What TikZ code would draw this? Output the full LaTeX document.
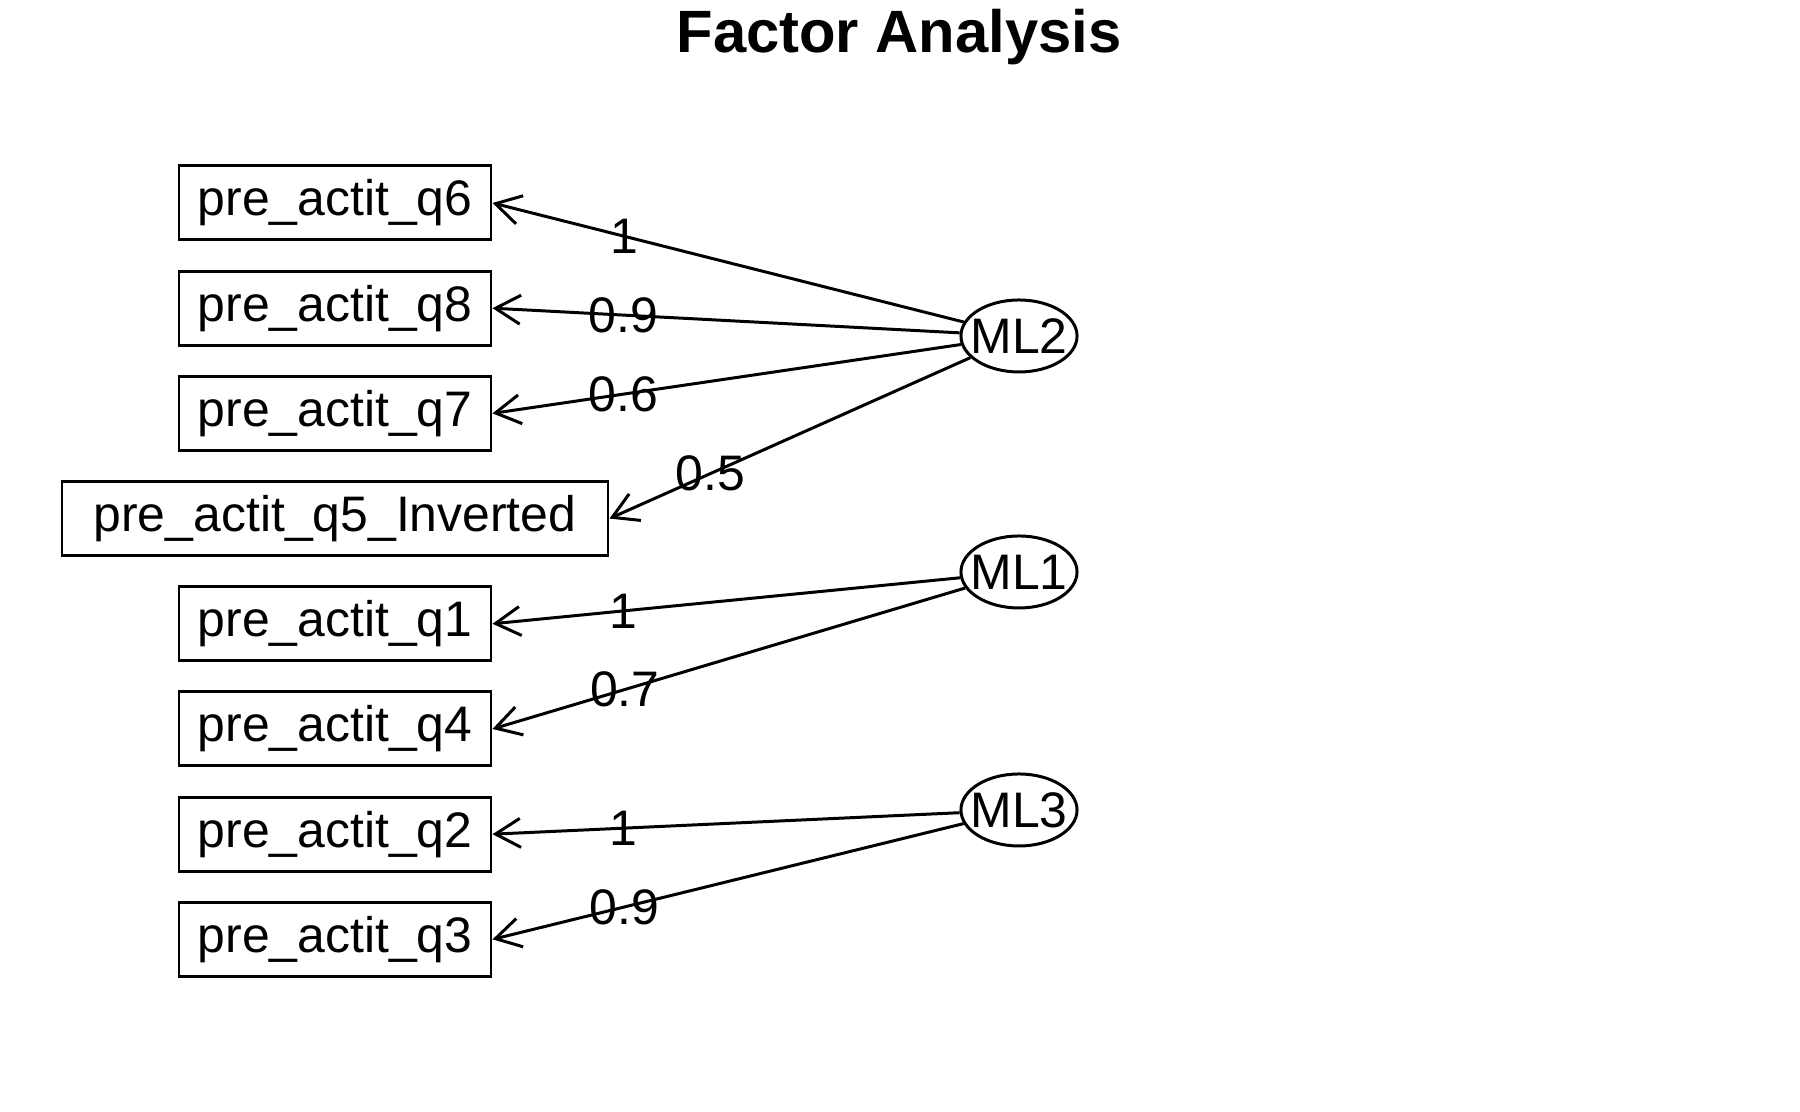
\documentclass[tikz,border=0pt]{standalone}
\usepackage{fontspec}
\setmainfont{Liberation Sans}
\usetikzlibrary{positioning, arrows.meta, shapes.geometric}
\tikzstyle{item}=[draw, minimum width=3.12cm, minimum height=0.74cm, inner sep=0pt, font=\fontsize{14.2}{17}\selectfont]
\tikzstyle{factor}=[draw, ellipse, minimum width=1.16cm, minimum height=0.72cm, inner xsep=-0.075cm, inner ysep=0pt, font=\fontsize{14.2}{17}\selectfont]
\tikzstyle{load}=[inner sep=0pt, font=\fontsize{14.2}{17}\selectfont]

\begin{document}
\begin{tikzpicture}[node distance=1.052cm, line width=0.85pt, >={Straight Barb[length=0.25cm,width=0.29cm]}]
                    \useasboundingbox (0,0) rectangle (18,11.12);
                    \node [anchor=base, font=\fontsize{17}{20}\selectfont\bfseries] (title) at (8.99,10.59) {Factor Analysis};
                    \node [item] (q6) at (3.35,9.09) {pre\_actit\_q6};
                    \node [item] (q8) [below of=q6] {pre\_actit\_q8};
                    \node [item] (q7) [below of=q8] {pre\_actit\_q7};
                    \node [item, minimum width=5.46cm] (q5) [below of=q7] {pre\_actit\_q5\_Inverted};
                    \node [item] (q1) [below of=q5] {pre\_actit\_q1};
                    \node [item] (q4) [below of=q1] {pre\_actit\_q4};
                    \node [item] (q2) [below of=q4] {pre\_actit\_q2};
                    \node [item] (q3) [below of=q2] {pre\_actit\_q3};
                    \node [factor] (ml2) at (10.19,7.76) {ML2};
                    \node [factor] (ml1) at (10.19,5.40) {ML1};
                    \node [factor] (ml3) at (10.19,3.02) {ML3};
                    \path[->] (ml2) edge node[load, pos=0.72] {1} (q6.east);
                    \path[->] (ml2) edge node[load, pos=0.72] {0.9} (q8.east);
                    \path[->] (ml2) edge node[load, pos=0.72] {0.6} (q7.east);
                    \path[->] (ml2) edge node[load, pos=0.72] {0.5} (q5.east);
                    \path[->] (ml1) edge node[load, pos=0.72] {1} (q1.east);
                    \path[->] (ml1) edge node[load, pos=0.72] {0.7} (q4.east);
                    \path[->] (ml3) edge node[load, pos=0.72] {1} (q2.east);
                    \path[->] (ml3) edge node[load, pos=0.72] {0.9} (q3.east);
                \end{tikzpicture}
\end{document}
